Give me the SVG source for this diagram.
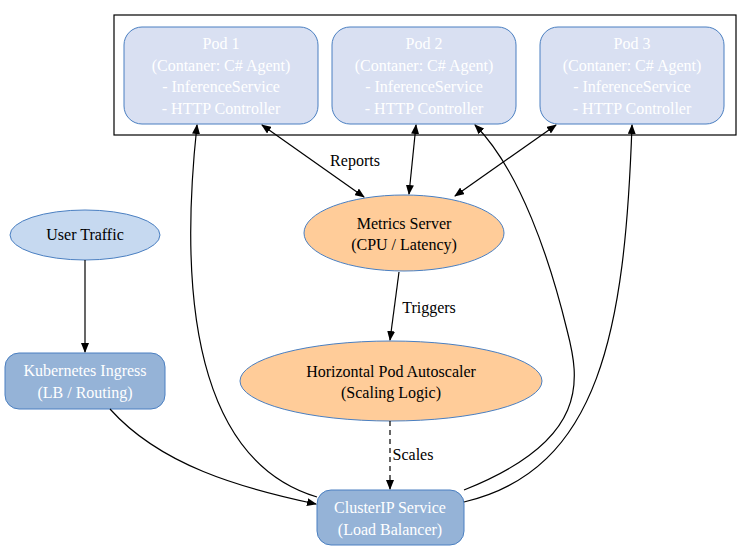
<svg xmlns="http://www.w3.org/2000/svg" width="751" height="550" viewBox="0 0 751 550">
<style>
text{font-family:'Liberation Serif','Times New Roman',Tinos,'DejaVu Serif',serif;font-size:16px;text-anchor:middle}
.w{fill:#fff}
.pod{fill:#d9e0f2;stroke:#4a7fc1;stroke-width:1}
.org{fill:#ffcc99;stroke:#4a7fc1}
.e{fill:none;stroke:#000;stroke-width:1.2}
</style>
<defs>
<marker id="a" markerWidth="10" markerHeight="8" refX="9" refY="4" orient="auto-start-reverse" markerUnits="userSpaceOnUse"><path d="M0,0L10,4L0,8z"/></marker>
</defs>
<rect width="751" height="550" fill="#fff"/>
<rect x="114" y="15" width="622" height="120" fill="none" stroke="#000" stroke-width="1.2"/>
<g id="pod1"><rect class="pod" x="124" y="27" width="194" height="97" rx="18"/>
<text class="w" x="221" y="49">Pod 1</text><text class="w" x="221" y="71">(Contaner: C# Agent)</text><text class="w" x="221" y="92">- InferenceService</text><text class="w" x="221" y="114">- HTTP Controller</text></g>
<g id="pod2"><rect class="pod" x="332" y="27" width="184" height="97" rx="18"/>
<text class="w" x="424" y="49">Pod 2</text><text class="w" x="424" y="71">(Contaner: C# Agent)</text><text class="w" x="424" y="92">- InferenceService</text><text class="w" x="424" y="114">- HTTP Controller</text></g>
<g id="pod3"><rect class="pod" x="540" y="27" width="184" height="97" rx="18"/>
<text class="w" x="632" y="49">Pod 3</text><text class="w" x="632" y="71">(Contaner: C# Agent)</text><text class="w" x="632" y="92">- InferenceService</text><text class="w" x="632" y="114">- HTTP Controller</text></g>
<g id="metrics"><ellipse class="org" cx="404" cy="233" rx="100" ry="38"/>
<text x="404" y="229">Metrics Server</text><text x="404" y="250">(CPU / Latency)</text></g>
<g id="hpa"><ellipse class="org" cx="391" cy="381" rx="151" ry="40"/>
<text x="391" y="377">Horizontal Pod Autoscaler</text><text x="391" y="398">(Scaling Logic)</text></g>
<g id="user"><ellipse cx="85" cy="235" rx="75" ry="25" fill="#c6d9f0" stroke="#4a7fc1"/>
<text x="85" y="240">User Traffic</text></g>
<g id="ingress"><rect x="5" y="353" width="160" height="56" rx="14" fill="#95b3d7" stroke="#4a7fc1"/>
<text class="w" x="85" y="376">Kubernetes Ingress</text><text class="w" x="85" y="398">(LB / Routing)</text></g>
<g id="clusterip"><rect x="317" y="490" width="147" height="55" rx="14" fill="#95b3d7" stroke="#4a7fc1"/>
<text class="w" x="390" y="513">ClusterIP Service</text><text class="w" x="390" y="535">(Load Balancer)</text></g>
<g id="edges">
<path class="e" d="M85,260L85,352" marker-end="url(#a)"/>
<path class="e" d="M110,409C160,465 240,488 316,504" marker-end="url(#a)"/>
<path class="e" d="M317,497C210,465 175,330 197,125" marker-end="url(#a)"/>
<path class="e" d="M464,490C590,440 580,380 567,330C550,260 520,170 475,125" marker-end="url(#a)"/>
<path class="e" d="M464,502C600,470 625,330 632,125" marker-end="url(#a)"/>
<path class="e" d="M262,125L364,197" marker-start="url(#a)" marker-end="url(#a)"/>
<path class="e" d="M416,125L409,194" marker-start="url(#a)" marker-end="url(#a)"/>
<path class="e" d="M556,125L455,196" marker-start="url(#a)" marker-end="url(#a)"/>
<path class="e" d="M399,272L390,340" marker-end="url(#a)"/>
<path class="e" d="M390,421L390,489" stroke-dasharray="5,4" marker-end="url(#a)"/>
<text x="355" y="166">Reports</text>
<text x="429" y="313">Triggers</text>
<text x="413" y="460">Scales</text>
</g>
</svg>
